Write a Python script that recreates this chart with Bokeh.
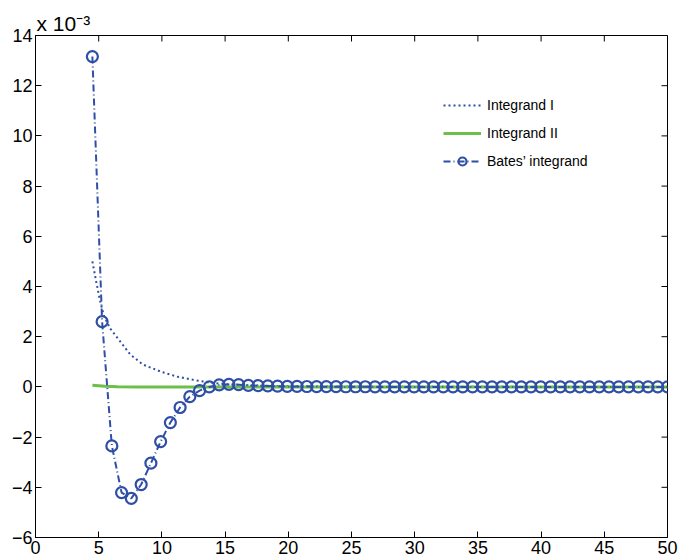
from bokeh.plotting import figure
from bokeh.models import LinearAxis, Range1d, FixedTicker, Legend, LegendItem, Title
from bokeh.embed import file_html
from bokeh.resources import INLINE

# ---- data (values in units of 1e-3) ----
bates_x = [4.50, 5.27, 6.04, 6.81, 7.58, 8.36, 9.13, 9.90, 10.67, 11.44,
           12.21, 12.98, 13.75, 14.53, 15.30, 16.07, 16.84, 17.61, 18.38, 19.15,
           19.92, 20.69, 21.47, 22.24, 23.01, 23.78, 24.55, 25.32, 26.09, 26.86,
           27.64, 28.41, 29.18, 29.95, 30.72, 31.49, 32.26, 33.03, 33.80, 34.58,
           35.35, 36.12, 36.89, 37.66, 38.43, 39.20, 39.97, 40.75, 41.52, 42.29,
           43.06, 43.83, 44.60, 45.37, 46.14, 46.92, 47.69, 48.46, 49.23, 50.00]
bates_y = [13.16, 2.60, -2.35, -4.21, -4.44, -3.89, -3.04, -2.18, -1.42, -0.82,
           -0.39, -0.15, 0.00, 0.08, 0.10, 0.09, 0.06, 0.05, 0.04, 0.03,
           0.02, 0.02, 0.015, 0.01, 0.01, 0.01, 0.005, 0.005, 0.005, 0.0,
           0.0, 0.0, 0.0, 0.0, 0.0, 0.0, 0.0, 0.0, 0.0, 0.0,
           0.0, 0.0, 0.0, 0.0, 0.0, 0.0, 0.0, 0.0, 0.0, 0.0,
           0.0, 0.0, 0.0, 0.0, 0.0, 0.0, 0.0, 0.0, 0.0, 0.0]

int1_x = [4.5, 4.8, 5.1, 5.4, 5.9, 6.7, 7.5, 8.5, 9.9, 11.2, 12.5, 13.8, 15.0,
          17.0, 20.0, 25.0, 30.0, 40.0, 50.0]
int1_y = [5.0, 4.2, 3.45, 2.85, 2.33, 1.81, 1.29, 0.89, 0.61, 0.41, 0.28, 0.17,
          0.11, 0.06, 0.03, 0.01, 0.005, 0.0, 0.0]

int2_x = [4.5, 5.0, 5.5, 6.5, 8.0, 50.0]
int2_y = [0.07, 0.05, 0.03, 0.01, 0.0, 0.0]

x_ticks = [0, 5, 10, 15, 20, 25, 30, 35, 40, 45, 50]
y_ticks = [-6, -4, -2, 0, 2, 4, 6, 8, 10, 12, 14]
exponent_text = "x 10\u207b\u00b3"

BLUE = "#2f4ea6"
GREEN = "#6cbf4a"
FONT = "Liberation Sans"
X0, X1, Y0, Y1 = 0, 50, -6, 14

p = figure(width=680, height=558, output_backend="svg", toolbar_location=None,
           x_range=Range1d(X0, X1), y_range=Range1d(Y0, Y1),
           min_border_left=35, min_border_right=13, min_border_top=35,
           min_border_bottom=21, x_axis_location=None, y_axis_location=None)
p.grid.visible = False
p.outline_line_color = "black"
p.background_fill_color = "white"
p.border_fill_color = "white"


def style_axis(ax, ticks):
    ax.ticker = FixedTicker(ticks=ticks)
    ax.major_tick_in = 6
    ax.major_tick_out = 0
    ax.minor_tick_line_color = None
    ax.axis_line_color = "black"
    ax.major_tick_line_color = "black"
    ax.major_label_text_font = FONT
    ax.major_label_text_color = "black"
    ax.major_label_text_font_size = "18px"
    ax.major_label_standoff = 3
    ax.major_label_overrides = {t: str(t).replace("-", "\u2212") for t in ticks}


xb = LinearAxis(); style_axis(xb, x_ticks); p.add_layout(xb, "below")
yl = LinearAxis(); style_axis(yl, y_ticks); p.add_layout(yl, "left")

# inward ticks on the top and right borders (box on)
tlx = 6 * (X1 - X0) / 632.0
tly = 6 * (Y1 - Y0) / 502.0
p.segment(x0=x_ticks, y0=[Y1] * len(x_ticks), x1=x_ticks,
          y1=[Y1 - tly] * len(x_ticks), line_color="black", line_width=1)
p.segment(x0=[X1] * len(y_ticks), y0=y_ticks, x1=[X1 - tlx] * len(y_ticks),
          y1=y_ticks, line_color="black", line_width=1)

r1 = p.line(int1_x, int1_y, line_color=BLUE, line_width=2, line_dash="2 3")
r2 = p.line(int2_x, int2_y, line_color=GREEN, line_width=3)
r3 = p.line(bates_x, bates_y, line_color=BLUE, line_width=2, line_dash="7 3 1 3")
r4 = p.scatter(bates_x, bates_y, marker="circle", size=11, line_color=BLUE,
               line_width=2.2, fill_color=None)

legend = Legend(items=[
    LegendItem(label="Integrand I", renderers=[r1]),
    LegendItem(label="Integrand II", renderers=[r2]),
    LegendItem(label="Bates\u2019 integrand", renderers=[r3, r4]),
], location=(408, 366))
legend.background_fill_alpha = 0
legend.border_line_alpha = 0
legend.padding = 0
legend.margin = 0
legend.spacing = 8
legend.glyph_width = 38
legend.glyph_height = 20
legend.label_height = 20
legend.label_standoff = 6
legend.label_text_font = FONT
legend.label_text_font_size = "14px"
legend.label_text_color = "black"
p.add_layout(legend, "center")

t = Title(text=exponent_text, align="left", text_font=FONT,
          text_font_size="21px", text_font_style="normal", text_color="black",
          standoff=2, offset=1)
p.add_layout(t, "above")

open("out.html", "w").write(file_html(p, INLINE))
